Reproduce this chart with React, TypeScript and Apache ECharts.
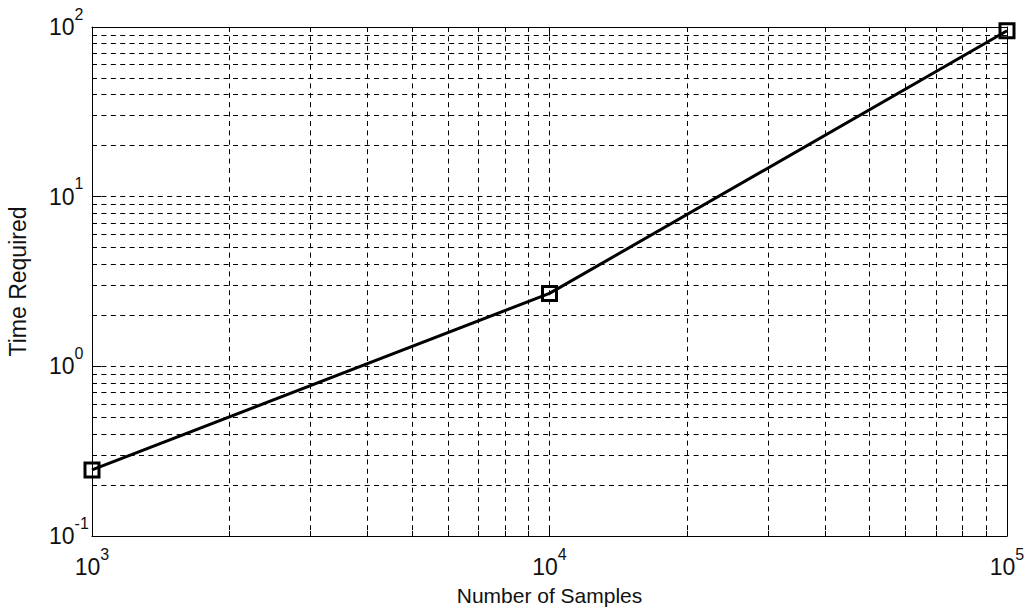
import React, { useEffect, useRef } from 'react';
import * as echarts from 'echarts';

// ---- data ----
const samples = [1000, 10000, 100000];
const timeRequired = [0.245, 2.69, 95];

// ---- axes ----
const xMajorTicks = [1000, 10000, 100000];
const yMajorTicks = [0.1, 1, 10, 100];
const minorMultipliers = [2, 3, 4, 5, 6, 7, 8, 9];
const xName = 'Number of Samples';
const yName = 'Time Required';

const withMinor = (majors: number[]) => {
  const out: number[] = [];
  majors.forEach((d) => {
    out.push(d);
    minorMultipliers.forEach((m) => out.push(+(m * d).toPrecision(6)));
  });
  return out;
};
const xAllTicks = withMinor(xMajorTicks);
const yAllTicks = withMinor(yMajorTicks);

const tickFont = "'Liberation Sans Narrow', 'Arial Narrow', 'Liberation Sans', sans-serif";
const nameFont = "'Liberation Sans', Arial, sans-serif";

const powLabel = (v: number) => `{b|10}{e|${Math.round(Math.log10(v))}}`;
const rich = {
  b: { fontSize: 23, fontFamily: tickFont, color: '#111', verticalAlign: 'middle', lineHeight: 42 },
  e: { fontSize: 16, fontFamily: tickFont, color: '#111', verticalAlign: 'top', padding: [0, 0, 26, 0] },
};

const black = { color: '#000', width: 1 };

function makeAxes(dim: 'x' | 'y') {
  const isX = dim === 'x';
  const min = isX ? 1000 : 0.1;
  const max = isX ? 100000 : 100;
  const majors = isX ? xMajorTicks : yMajorTicks;
  const all = isX ? xAllTicks : yAllTicks;
  const near = isX ? 'bottom' : 'left';
  const far = isX ? 'top' : 'right';
  const base = {
    type: 'log',
    logBase: 10,
    min,
    max,
    axisLine: { show: true, onZero: false, lineStyle: black },
    splitLine: { show: false },
    minorTick: { show: false },
    minorSplitLine: { show: false },
    axisLabel: { show: false },
  };
  const main: any = {
    ...base,
    position: near,
    axisTick: { show: true, inside: true, length: 9, customValues: majors, lineStyle: black },
    axisLabel: {
      show: true,
      customValues: majors,
      formatter: powLabel,
      rich,
      margin: isX ? 10 : 43,
      align: isX ? 'center' : 'left',
      hideOverlap: false,
      showMinLabel: true,
      showMaxLabel: true,
    },
    name: isX ? xName : yName,
    nameLocation: 'middle',
    nameGap: isX ? 49 : 63,
    nameTextStyle: { fontFamily: nameFont, fontSize: isX ? 21 : 23, color: '#111' },
  };
  const minor: any = {
    ...base,
    position: near,
    axisLine: { show: false, onZero: false },
    axisTick: { show: true, inside: true, length: 5, customValues: all, lineStyle: black },
    splitLine: { show: true, lineStyle: { color: '#000', width: 1, type: [5, 4.4] } },
  };
  const farMain: any = {
    ...base,
    position: far,
    axisTick: { show: true, inside: true, length: 9, customValues: majors, lineStyle: black },
  };
  const farMinor: any = {
    ...base,
    position: far,
    axisLine: { show: false, onZero: false },
    axisTick: { show: true, inside: true, length: 5, customValues: all, lineStyle: black },
  };
  return [main, minor, farMain, farMinor];
}

export default function App() {
  const ref = useRef<HTMLDivElement>(null);
  useEffect(() => {
    if (!ref.current) return;
    const chart = echarts.init(ref.current, null, { renderer: 'svg' });
    chart.setOption({
      animation: false,
      backgroundColor: '#fff',
      grid: { left: 92, top: 27, right: 18, bottom: 78, containLabel: false, outerBoundsMode: 'none' },
      xAxis: makeAxes('x'),
      yAxis: makeAxes('y'),
      series: [
        {
          type: 'line',
          xAxisIndex: 0,
          yAxisIndex: 0,
          data: samples.map((x, i) => [x, timeRequired[i]]),
          symbol: 'rect',
          symbolSize: 14,
          showSymbol: true,
          clip: false,
          z: 10,
          lineStyle: { color: '#000', width: 3 },
          itemStyle: { color: 'rgba(0,0,0,0)', borderColor: '#000', borderWidth: 3 },
          emphasis: { disabled: true },
        },
      ],
    });
    return () => chart.dispose();
  }, []);
  return (
    <div
      ref={ref}
      style={{ position: 'absolute', left: 0, top: 0, width: 1025, height: 614, background: '#fff' }}
    />
  );
}
